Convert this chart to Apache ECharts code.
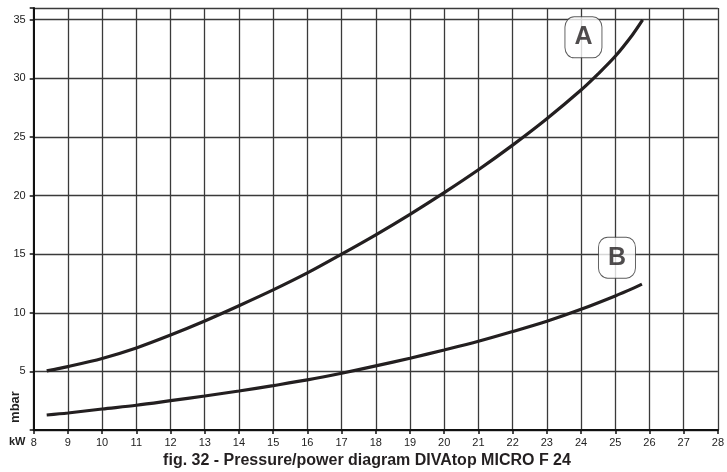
<!DOCTYPE html>
<html><head><meta charset="utf-8">
<script src="https://cdn.jsdelivr.net/npm/echarts@6/dist/echarts.min.js"></script>
<style>html,body{margin:0;padding:0;background:#fff}#c{width:727px;height:472px}</style>
</head><body><div id="c"></div>
<script>
// power (kW) and pressure (mbar) for curve A
const kwA = [8.38, 9, 10, 11, 12, 13, 14, 15, 16, 17, 18, 19, 20, 21, 22, 23, 24, 24.5, 25, 25.5, 25.8];
const mbarA = [5.04, 5.41, 6.1, 7.0, 8.1, 9.3, 10.6, 11.95, 13.4, 15.0, 16.65, 18.4, 20.25, 22.2, 24.3, 26.55, 29.0, 30.38, 31.88, 33.7, 34.98];
// curve B
const kwB = [8.38, 9, 10, 11, 12, 13, 14, 15, 16, 17, 18, 19, 20, 21, 22, 23, 24, 25, 25.5, 25.78];
const mbarB = [1.28, 1.45, 1.79, 2.11, 2.5, 2.9, 3.33, 3.79, 4.27, 4.84, 5.47, 6.12, 6.83, 7.57, 8.4, 9.28, 10.3, 11.44, 12.06, 12.44];
// curve tags
const tagNames = ['A', 'B'];
const tagKw = [24.07, 25.05];
const tagMbar = [33.5, 14.7];
// axes
const xMin = 8, xMax = 28, xStep = 1;
const yMin = 0, yMax = 36, yStep = 5;
const titleText = 'fig. 32 - Pressure/power diagram DIVAtop MICRO F 24';

const chart = echarts.init(document.getElementById('c'), null, {renderer: 'canvas'});
const font = "'Liberation Sans', Arial, sans-serif";
const lineCol = '#231f20';
chart.setOption({
  animation: false,
  backgroundColor: '#fff',
  grid: {left: 33.7, right: 7.7, top: 8, bottom: 42, containLabel: false},
  xAxis: {
    type: 'value', min: xMin, max: xMax, interval: xStep,
    axisLine: {show: true, onZero: false, lineStyle: {color: '#111', width: 2}},
    axisTick: {show: true, length: 4, lineStyle: {color: '#111', width: 1.5}},
    axisLabel: {color: '#222', fontSize: 11, fontFamily: font, margin: 7},
    splitLine: {show: true, lineStyle: {color: '#3a3a3a', width: 1.3}}
  },
  yAxis: {
    type: 'value', min: yMin, max: yMax, interval: yStep,
    axisLine: {show: true, onZero: false, lineStyle: {color: '#111', width: 2}},
    axisTick: {show: true, length: 4, lineStyle: {color: '#111', width: 1.5}},
    axisLabel: {color: '#222', fontSize: 11, fontFamily: font, margin: 8,
      formatter: v => (v > 0 && v % 5 === 0) ? String(v) : ''},
    splitLine: {show: true, lineStyle: {color: '#3a3a3a', width: 1.3}}
  },
  series: [
    {type: 'line', data: kwA.map((k, i) => [k, mbarA[i]]), smooth: 0.3,
     showSymbol: false, lineStyle: {color: lineCol, width: 3.2}, z: 3},
    {type: 'line', data: kwB.map((k, i) => [k, mbarB[i]]), smooth: 0.3,
     showSymbol: false, lineStyle: {color: lineCol, width: 3.2}, z: 3},
    {type: 'scatter', symbol: 'roundRect', symbolSize: [37, 41], z: 4,
     data: tagNames.map((n, i) => ({name: n, value: [tagKw[i], tagMbar[i]]})),
     itemStyle: {color: '#fff', borderColor: '#333', borderWidth: 1},
     label: {show: true, position: 'inside', formatter: p => p.name, color: '#231f20',
       fontSize: 25, fontWeight: 'bold', fontFamily: font}}
  ],
  graphic: [
    {type: 'text', left: 9, top: 436, style: {text: 'kW', fill: '#222', font: "bold 11px 'Liberation Sans', Arial, sans-serif"}},
    {type: 'text', x: 15, y: 407, rotation: Math.PI / 2, style: {text: 'mbar', fill: '#222', align: 'center', verticalAlign: 'middle', font: "bold 13px 'Liberation Sans', Arial, sans-serif"}},
    {type: 'text', x: 367, y: 461, style: {text: titleText, fill: '#231f20', align: 'center', verticalAlign: 'middle', font: "bold 16px 'Liberation Sans', Arial, sans-serif"}}
  ]
});
</script></body></html>
